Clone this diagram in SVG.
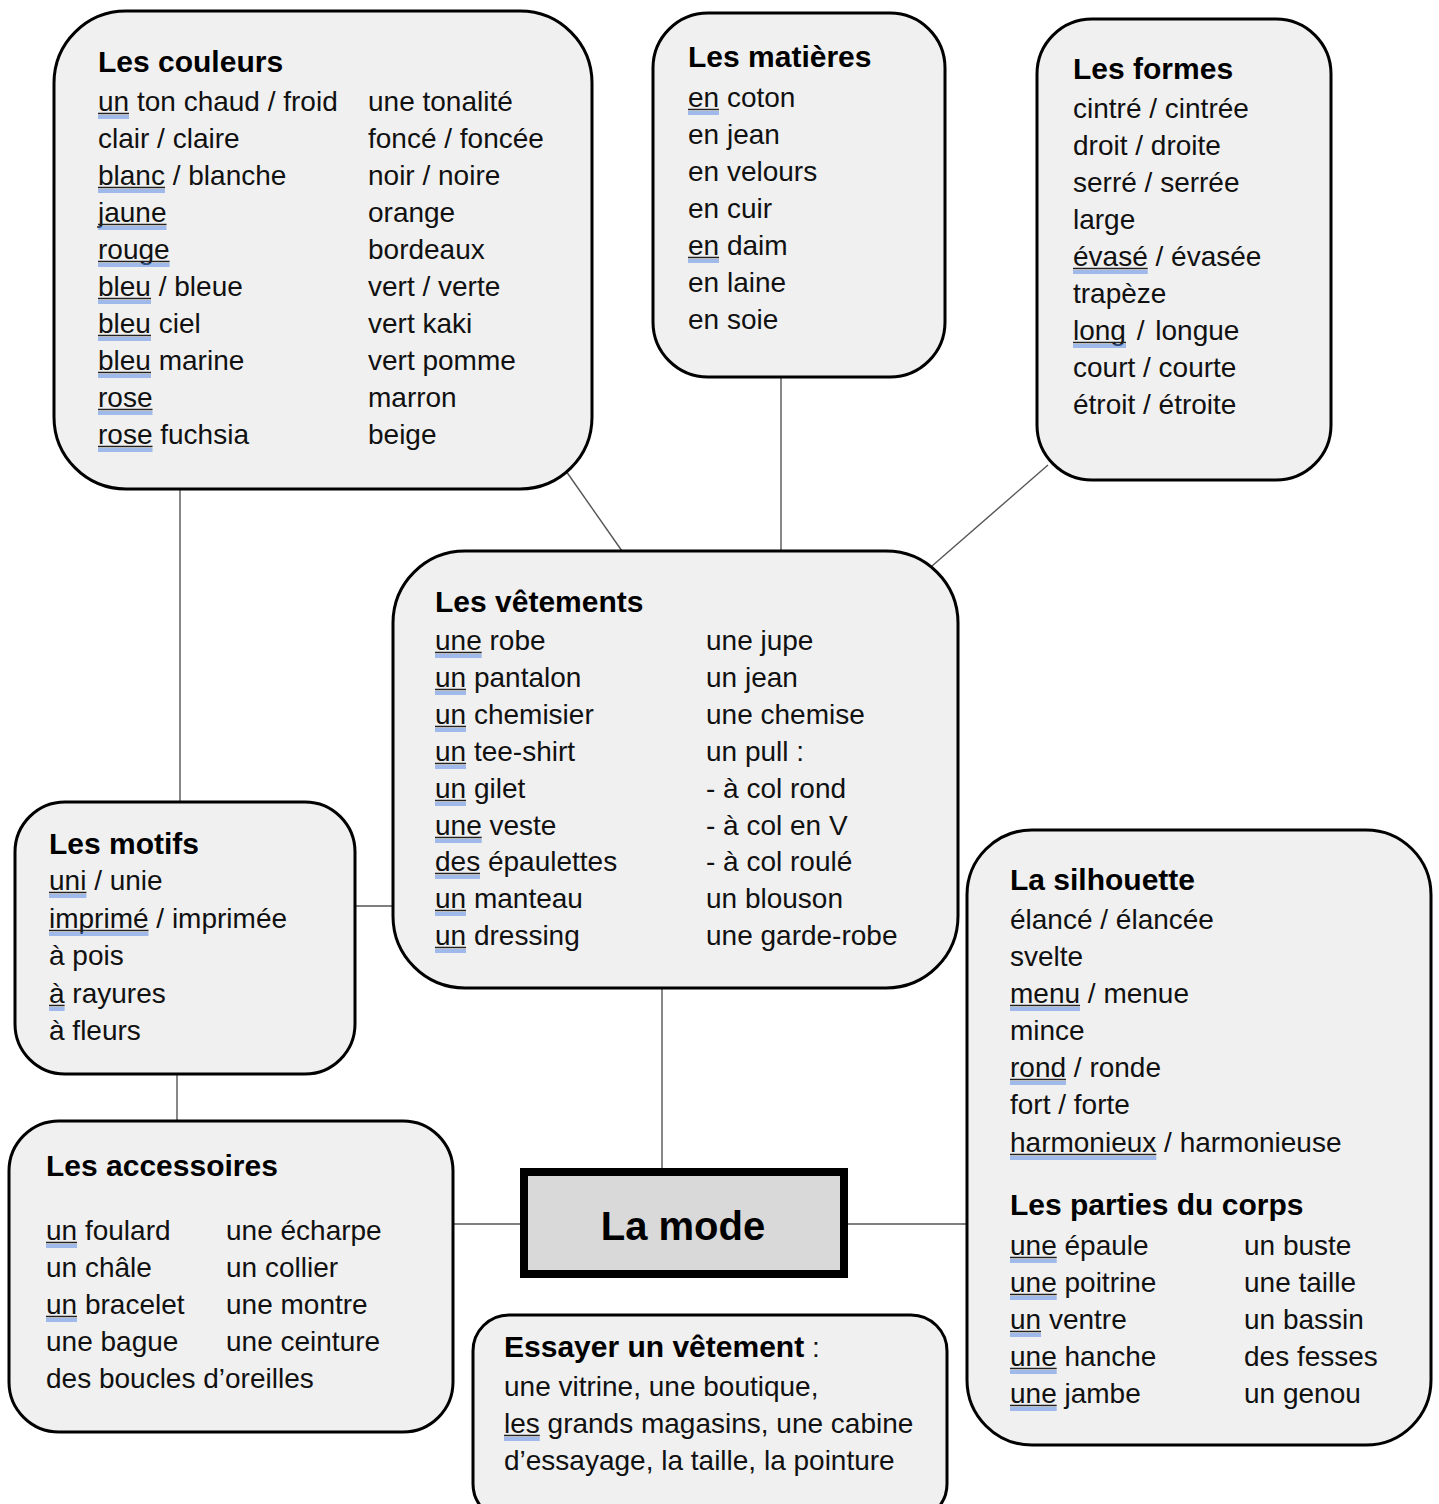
<svg xmlns="http://www.w3.org/2000/svg" width="1439" height="1504" viewBox="0 0 1439 1504">
<style>
.box{fill:#f0f0f0;stroke:#000;stroke-width:3}
.t{font-family:"Liberation Sans",Arial,sans-serif;font-size:28px;fill:#111}
.h{font-family:"Liberation Sans",Arial,sans-serif;font-size:30px;font-weight:bold;fill:#000}
.c{stroke:#555;stroke-width:1.4;fill:none}
.ul{stroke:#222;stroke-width:1.3;fill:none}
.ub{stroke:#4f82e3;stroke-width:1.2;fill:none}
</style>
<rect width="1439" height="1504" fill="#fff"/>
<g id="connectors">
<path class="c" d="M180 490V802"/>
<path class="c" d="M566 471L622 551"/>
<path class="c" d="M781 377V551"/>
<path class="c" d="M1048 465L932 566"/>
<path class="c" d="M355 906H393"/>
<path class="c" d="M662 988V1169"/>
<path class="c" d="M177 1074V1121"/>
<path class="c" d="M453 1224H520"/>
<path class="c" d="M848 1224H967"/>
</g>
<g id="couleurs">
<rect class="box" x="54" y="11" width="538" height="478" rx="72"/>
<text class="h" x="98" y="72">Les couleurs</text>
<g class="t">
<text x="98" y="111">un ton chaud / froid</text>
<text x="98" y="148">clair / claire</text>
<text x="98" y="185">blanc / blanche</text>
<text x="98" y="222">jaune</text>
<text x="98" y="259">rouge</text>
<text x="98" y="296">bleu / bleue</text>
<text x="98" y="333">bleu ciel</text>
<text x="98" y="370">bleu marine</text>
<text x="98" y="407">rose</text>
<text x="98" y="444">rose fuchsia</text>
<text x="368" y="111">une tonalité</text>
<text x="368" y="148">foncé / foncée</text>
<text x="368" y="185">noir / noire</text>
<text x="368" y="222">orange</text>
<text x="368" y="259">bordeaux</text>
<text x="368" y="296">vert / verte</text>
<text x="368" y="333">vert kaki</text>
<text x="368" y="370">vert pomme</text>
<text x="368" y="407">marron</text>
<text x="368" y="444">beige</text>
</g>
<path class="ul" d="M98 113.5h31M98 187.5h67M98 224.5h68.5M98 261.5h71.6M98 298.5h53M98 335.5h53M98 372.5h53M98 409.5h54.5M98 446.5h54.5"/>
<path class="ub" d="M98 116h31M98 118h31M98 190h67M98 192h67M98 227h68.5M98 229h68.5M98 264h71.6M98 266h71.6M98 301h53M98 303h53M98 338h53M98 340h53M98 375h53M98 377h53M98 412h54.5M98 414h54.5M98 449h54.5M98 451h54.5"/>
</g>
<g id="matieres">
<rect class="box" x="653" y="13" width="292" height="364" rx="55"/>
<text class="h" x="688" y="67">Les matières</text>
<g class="t">
<text x="688" y="107">en coton</text>
<text x="688" y="144">en jean</text>
<text x="688" y="181">en velours</text>
<text x="688" y="218">en cuir</text>
<text x="688" y="255">en daim</text>
<text x="688" y="292">en laine</text>
<text x="688" y="329">en soie</text>
</g>
<path class="ul" d="M688 109.5h31M688 257.5h31"/>
<path class="ub" d="M688 112h31M688 114h31M688 260h31M688 262h31"/>
</g>
<g id="formes">
<rect class="box" x="1037" y="19" width="294" height="461" rx="55"/>
<text class="h" x="1073" y="79">Les formes</text>
<g class="t">
<text x="1073" y="118">cintré / cintrée</text>
<text x="1073" y="155">droit / droite</text>
<text x="1073" y="192">serré / serrée</text>
<text x="1073" y="229">large</text>
<text x="1073" y="266">évasé / évasée</text>
<text x="1073" y="303">trapèze</text>
<text x="1073" y="340" style="word-spacing:3px">long / longue</text>
<text x="1073" y="377">court / courte</text>
<text x="1073" y="414">étroit / étroite</text>
</g>
<path class="ul" d="M1073 268.5h74.7M1073 342.5h53"/>
<path class="ub" d="M1073 271h74.7M1073 273h74.7M1073 345h53M1073 347h53"/>
</g>
<g id="vetements">
<rect class="box" x="393" y="551" width="565" height="437" rx="72"/>
<text class="h" x="435" y="612">Les vêtements</text>
<g class="t">
<text x="435" y="650">une robe</text>
<text x="435" y="687">un pantalon</text>
<text x="435" y="724">un chemisier</text>
<text x="435" y="761">un tee-shirt</text>
<text x="435" y="798">un gilet</text>
<text x="435" y="835">une veste</text>
<text x="435" y="871">des épaulettes</text>
<text x="435" y="908">un manteau</text>
<text x="435" y="945">un dressing</text>
<text x="706" y="650">une jupe</text>
<text x="706" y="687">un jean</text>
<text x="706" y="724">une chemise</text>
<text x="706" y="761">un pull :</text>
<text x="706" y="798">- à col rond</text>
<text x="706" y="835">- à col en V</text>
<text x="706" y="871">- à col roulé</text>
<text x="706" y="908">un blouson</text>
<text x="706" y="945">une garde-robe</text>
</g>
<path class="ul" d="M435 652.5h46.7M435 689.5h31M435 726.5h31M435 763.5h31M435 800.5h31M435 837.5h46.7M435 873.5h45M435 910.5h31M435 947.5h31"/>
<path class="ub" d="M435 655h46.7M435 657h46.7M435 692h31M435 694h31M435 729h31M435 731h31M435 766h31M435 768h31M435 803h31M435 805h31M435 840h46.7M435 842h46.7M435 876h45M435 878h45M435 913h31M435 915h31M435 950h31M435 952h31"/>
</g>
<g id="motifs">
<rect class="box" x="15" y="802" width="340" height="272" rx="50"/>
<text class="h" x="49" y="854">Les motifs</text>
<g class="t">
<text x="49" y="890">uni / unie</text>
<text x="49" y="928">imprimé / imprimée</text>
<text x="49" y="965">à pois</text>
<text x="49" y="1003">à rayures</text>
<text x="49" y="1040">à fleurs</text>
</g>
<path class="ul" d="M49 892.5h37.4M49 930.5h99.5M49 1005.5h15.6"/>
<path class="ub" d="M49 895h37.4M49 897h37.4M49 933h99.5M49 935h99.5M49 1008h15.6M49 1010h15.6"/>
</g>
<g id="accessoires">
<rect class="box" x="9" y="1121" width="444" height="311" rx="50"/>
<text class="h" x="46" y="1176">Les accessoires</text>
<g class="t">
<text x="46" y="1240">un foulard</text>
<text x="46" y="1277">un châle</text>
<text x="46" y="1314">un bracelet</text>
<text x="46" y="1351">une bague</text>
<text x="46" y="1388">des boucles d’oreilles</text>
<text x="226" y="1240">une écharpe</text>
<text x="226" y="1277">un collier</text>
<text x="226" y="1314">une montre</text>
<text x="226" y="1351">une ceinture</text>
</g>
<path class="ul" d="M46 1242.5h31M46 1316.5h31"/>
<path class="ub" d="M46 1245h31M46 1247h31M46 1319h31M46 1321h31"/>
</g>
<g id="la-mode">
<rect x="524" y="1172" width="320" height="102" fill="#d9d9d9" stroke="#000" stroke-width="8"/>
<text x="683" y="1240" text-anchor="middle" style="font-family:'Liberation Sans',Arial,sans-serif;font-size:40px;font-weight:bold">La mode</text>
</g>
<g id="silhouette">
<rect class="box" x="967" y="830" width="464" height="615" rx="65"/>
<text class="h" x="1010" y="890">La silhouette</text>
<g class="t">
<text x="1010" y="929">élancé / élancée</text>
<text x="1010" y="966">svelte</text>
<text x="1010" y="1003">menu / menue</text>
<text x="1010" y="1040">mince</text>
<text x="1010" y="1077">rond / ronde</text>
<text x="1010" y="1114">fort / forte</text>
<text x="1010" y="1152">harmonieux / harmonieuse</text>
</g>
<text class="h" x="1010" y="1215">Les parties du corps</text>
<g class="t">
<text x="1010" y="1255">une épaule</text>
<text x="1010" y="1292">une poitrine</text>
<text x="1010" y="1329">un ventre</text>
<text x="1010" y="1366">une hanche</text>
<text x="1010" y="1403">une jambe</text>
<text x="1244" y="1255">un buste</text>
<text x="1244" y="1292">une taille</text>
<text x="1244" y="1329">un bassin</text>
<text x="1244" y="1366">des fesses</text>
<text x="1244" y="1403">un genou</text>
</g>
<path class="ul" d="M1010 1005.5h70M1010 1079.5h56M1010 1154.5h146.3M1010 1257.5h46.7M1010 1294.5h46.7M1010 1331.5h31M1010 1368.5h46.7M1010 1405.5h46.7"/>
<path class="ub" d="M1010 1008h70M1010 1010h70M1010 1082h56M1010 1084h56M1010 1157h146.3M1010 1159h146.3M1010 1260h46.7M1010 1262h46.7M1010 1297h46.7M1010 1299h46.7M1010 1334h31M1010 1336h31M1010 1371h46.7M1010 1373h46.7M1010 1408h46.7M1010 1410h46.7"/>
</g>
<g id="essayer">
<rect class="box" x="473" y="1315" width="474" height="205" rx="36"/>
<text x="504" y="1357"><tspan class="h">Essayer un vêtement</tspan><tspan class="t"> :</tspan></text>
<g class="t">
<text x="504" y="1396">une vitrine, une boutique,</text>
<text x="504" y="1433">les grands magasins, une cabine</text>
<text x="504" y="1470">d’essayage, la taille, la pointure</text>
</g>
<path class="ul" d="M504 1435.5h35.8"/>
<path class="ub" d="M504 1438h35.8M504 1440h35.8"/>
</g>
</svg>
